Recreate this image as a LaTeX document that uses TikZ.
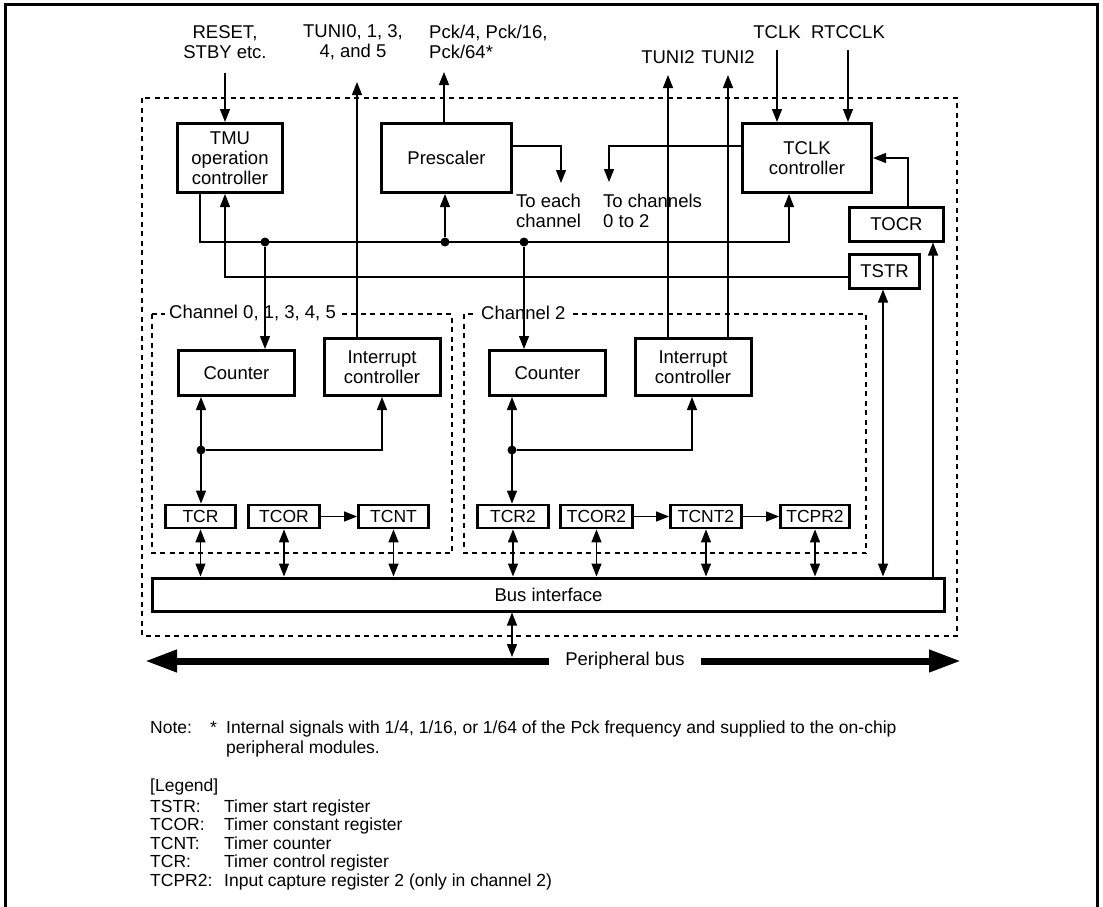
\documentclass[tikz,border=0pt]{standalone}
\usepackage{fontspec}
\setmainfont{Liberation Sans}
\usetikzlibrary{arrows.meta,positioning,calc}
\tikzset{
  blk/.style={draw, line width=3pt, align=center, inner sep=0pt, font=\fontsize{18.5}{20}\selectfont},
  reg/.style={draw, line width=2.8pt, inner sep=0pt, minimum height=23pt, font=\fontsize{17.5}{20}\selectfont},
  lbl/.style={align=center, inner sep=0pt, font=\fontsize{18.5}{20.5}\selectfont},
  note/.style={inner sep=0pt, anchor=base west, font=\fontsize{17.5}{20}\selectfont},
  sig/.style={line width=1.4pt},
  arr/.style={sig, -{Triangle[length=13pt,width=10pt]}},
  darr/.style={sig, {Triangle[length=13pt,width=10pt]}-{Triangle[length=13pt,width=10pt]}},
  chbox/.style={line width=1.1pt, dash pattern=on 5pt off 4.5pt},
  jn/.style={circle, fill, inner sep=0pt, minimum size=9pt},
  pb/.style={line width=7pt, -{Triangle[length=32pt,width=21pt]}}
}

\begin{document}
\begin{tikzpicture}[x=1pt,y=-1pt]
\useasboundingbox (0,0) rectangle (1103,907);
% page frame
\draw[line width=3pt] (5,907) -- (5,5) -- (1097,5) -- (1097,907);

% module and channel borders
\draw[chbox] (142,98) rectangle (957,636);
\draw[chbox] (152,314) rectangle (452,553);
\draw[chbox] (464,314) rectangle (866,553);
\node[lbl, fill=white, inner xsep=4pt, anchor=west] (ch0) at (165,313) {Channel 0, 1, 3, 4, 5};
\node[lbl, fill=white, inner xsep=4pt, anchor=west] (ch2) at (477,313) {Channel 2};

% blocks
\node[blk, minimum width=105pt, minimum height=69pt] (tmu) at (230,158) {TMU\\operation\\controller};
\node[blk, minimum width=130pt, minimum height=69pt] (pre) at (446.5,158) {Prescaler};
\node[blk, minimum width=129pt, minimum height=69pt] (tclk) at (807,158) {TCLK\\controller};
\node[blk, minimum width=94pt, minimum height=34pt] (tocr) at (896.5,224) {TOCR};
\node[blk, minimum width=70pt, minimum height=34pt] (tstr) at (884.5,271) {TSTR};
\node[blk, minimum width=116pt, minimum height=45pt] (cnt0) at (236.5,373) {Counter};
\node[blk, minimum width=116pt, minimum height=57pt] (int0) at (382,367) {Interrupt\\controller};
\node[blk, minimum width=116pt, minimum height=45pt] (cnt2) at (547.5,373) {Counter};
\node[blk, minimum width=116pt, minimum height=57pt] (int2) at (693,367) {Interrupt\\controller};

% registers
\node[reg, minimum width=70pt] (tcr) at (200.5,516.5) {TCR};
\node[reg, minimum width=71pt] (tcor) at (284,516.5) {TCOR};
\node[reg, minimum width=70pt] (tcnt) at (393.5,516.5) {TCNT};
\node[reg, minimum width=71pt] (tcr2) at (513,516.5) {TCR2};
\node[reg, minimum width=72pt] (tcor2) at (596.5,516.5) {TCOR2};
\node[reg, minimum width=71pt] (tcnt2) at (706,516.5) {TCNT2};
\node[reg, minimum width=69pt] (tcpr2) at (815,516.5) {TCPR2};

\node[blk, minimum width=792pt, minimum height=33pt] (bus) at (548.5,594.5) {Bus interface};

% peripheral bus
\node[lbl] (pbus) at (625,661) {Peripheral bus};
\coordinate (pbL) at (145,661);
\coordinate (pbR) at (961,661);
\draw[pb] ([xshift=-16pt]pbus.west) -- (pbL);
\draw[pb] ([xshift=16pt]pbus.east) -- (pbR);
\coordinate (pbT) at (512,657);
\draw[darr] (bus.south -| pbT) -- (pbT);

% outside signals
\node[lbl] (rs) at (225,42) {RESET,\\STBY etc.};
\coordinate (rsIn) at (225,73);
\draw[arr] (rsIn) -- (rsIn |- tmu.north);
\node[lbl] (tuni) at (353,42) {TUNI0, 1, 3,\\4, and 5};
\coordinate (tuniO) at (357,82);
\draw[arr] (tuniO |- int0.north) -- (tuniO);
\node[lbl, align=left, anchor=west] (pck) at (429,42) {Pck/4, Pck/16,\\Pck/64*};
\coordinate (pckO) at (444,72);
\draw[arr] (pckO |- pre.north) -- (pckO);
\node[lbl] (t2a) at (668,57) {TUNI2};
\node[lbl] (t2b) at (728,57) {TUNI2};
\coordinate (t2aO) at (668,75);
\coordinate (t2bO) at (728,75);
\draw[arr] (t2aO |- int2.north) -- (t2aO);
\draw[arr] (t2bO |- int2.north) -- (t2bO);
\node[lbl] (tck) at (777,32) {TCLK};
\node[lbl] (rtc) at (848,32) {RTCCLK};
\coordinate (tckIn) at (777,50);
\coordinate (rtcIn) at (848,50);
\draw[arr] (tckIn) -- (tckIn |- tclk.north);
\draw[arr] (rtcIn) -- (rtcIn |- tclk.north);

% clock outputs
\node[lbl, align=left, anchor=west] (each) at (516,211) {To each\\channel};
\node[lbl, align=left, anchor=west] (chans) at (603,211) {To channels\\0 to 2};
\coordinate (toEach) at (561,183);
\coordinate (toCh) at (609,182);
\draw[arr] (pre.east |- 0,146) -| (toEach);
\draw[arr] (tclk.west |- 0,146) -| (toCh);
\draw[arr] (908,0 |- tocr.north) |- (tclk.east);

% control lines
\coordinate (l1e) at (789,242);
\coordinate (l2w) at (225,277);
\draw[arr] (200,0 |- tmu.south) |- (l1e) -- (l1e |- tclk.south);
\draw[arr] (tstr.west |- l2w) -- (l2w) -- (l2w |- tmu.south);
\node[jn] (j1) at (265,242) {};
\node[jn] (j2) at (445,242) {};
\node[jn] (j3) at (524,242) {};
\draw[arr] (j2) -- (j2 |- pre.south);
\draw[arr] (j1) -- (j1 |- cnt0.north);
\draw[arr] (j3) -- (j3 |- cnt2.north);
\draw[darr] (883,0 |- tstr.south) -- (883,0 |- bus.north);
\draw[arr] (933,0 |- bus.north) -- (933,0 |- tocr.south);

% inside the channels
\node[jn] (j4) at (201,450) {};
\node[jn] (j5) at (512,450) {};
\draw[darr] (j4 |- cnt0.south) -- (j4 |- tcr.north);
\draw[arr] (j4) -| (382,0 |- int0.south);
\draw[darr] (j5 |- cnt2.south) -- (j5 |- tcr2.north);
\draw[arr] (j5) -| (692,0 |- int2.south);
\draw[arr] (tcor) -- (tcnt);
\draw[arr] (tcor2) -- (tcnt2);
\draw[arr] (tcnt2) -- (tcpr2);
\foreach \r in {tcr,tcor,tcnt,tcr2,tcor2,tcnt2,tcpr2}
  \draw[darr] (\r.south) -- (\r.south |- bus.north);

% note and legend
\node[note] (nt) at (150,733) {Note:};
\node[note] (ast) at (210,733) {*};
\node[note] (nt1) at (226,733) {Internal signals with 1/4, 1/16, or 1/64 of the Pck frequency and supplied to the on-chip};
\node[note] (nt2) at (226,753) {peripheral modules.};
\node[note] (lg) at (150,791) {[Legend]};
\node[note] (k1) at (150,812) {TSTR:};
\node[note] (d1) at (224,812) {Timer start register};
\node[note] (k2) at (150,830.5) {TCOR:};
\node[note] (d2) at (224,830.5) {Timer constant register};
\node[note] (k3) at (150,849) {TCNT:};
\node[note] (d3) at (224,849) {Timer counter};
\node[note] (k4) at (150,867.5) {TCR:};
\node[note] (d4) at (224,867.5) {Timer control register};
\node[note] (k5) at (150,886) {TCPR2:};
\node[note] (d5) at (224,886) {Input capture register 2 (only in channel 2)};
\end{tikzpicture}
\end{document}
